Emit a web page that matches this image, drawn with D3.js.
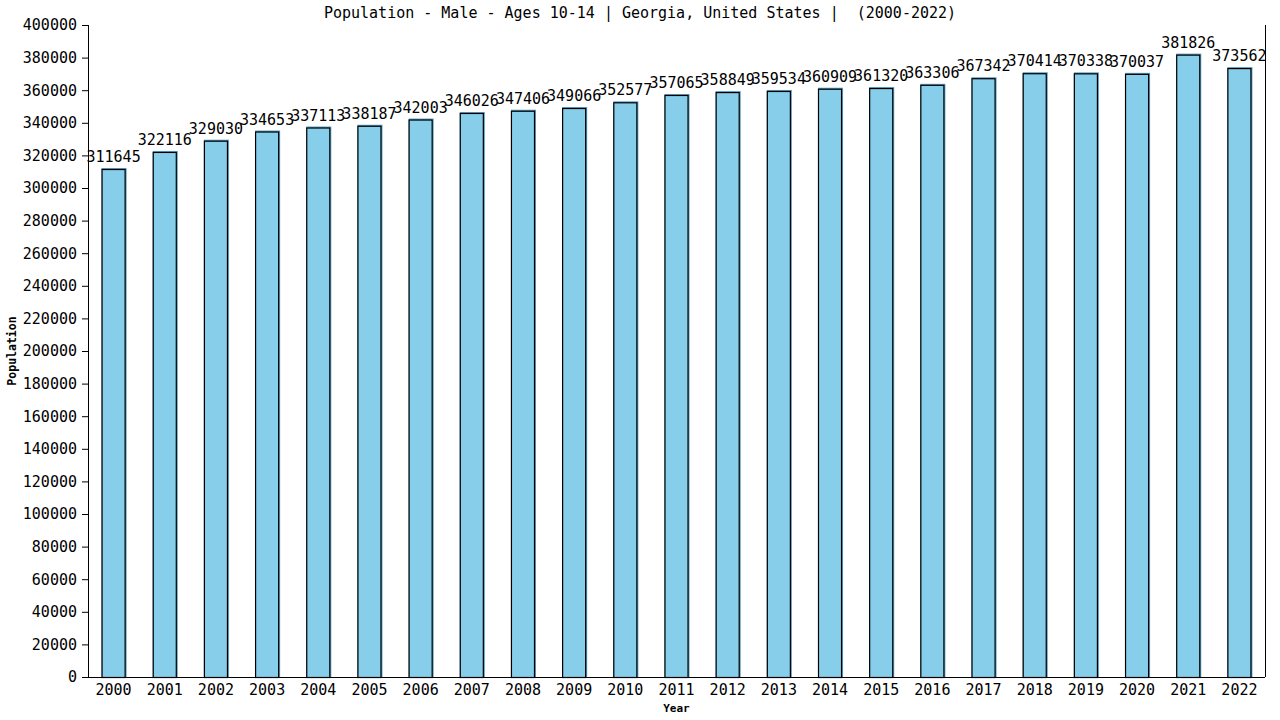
<!DOCTYPE html>
<html>
<head>
<meta charset="utf-8">
<script src="https://cdn.jsdelivr.net/npm/d3@7"></script>
<style>
  body { margin: 0; background: #fff; }
  text { font-family: "DejaVu Sans Mono", monospace; fill: #000; white-space: pre; }
</style>
</head>
<body>
<script>
// data
const years = ['2000', '2001', '2002', '2003', '2004', '2005', '2006', '2007', '2008', '2009', '2010', '2011',
  '2012', '2013', '2014', '2015', '2016', '2017', '2018', '2019', '2020', '2021', '2022']
const population = [311645, 322116, 329030, 334653, 337113, 338187, 342003, 346026, 347406, 349066, 352577, 357065,
  358849, 359534, 360909, 361320, 363306, 367342, 370414, 370338, 370037, 381826, 373562]
const yTicks = d3.range(0, 400001, 20000)
const title = 'Population - Male - Ages 10-14 | Georgia, United States |  (2000-2022)'

const w = 1280
const h = 720
const margin = { top: 25, right: 15, bottom: 43, left: 88 }

const svg = d3.select('body')
  .append('svg')
  .attr('width', w)
  .attr('height', h)

const xScale = d3.scaleBand()
  .domain(years)
  .range([margin.left, w - margin.right])
  .paddingInner(0.53)
  .paddingOuter(0.265)

const yScale = d3.scaleLinear()
  .domain([0, 400000])
  .range([h - margin.bottom, margin.top])

// bars: a thin blue edge behind, then the fill with black outline
svg.selectAll('rect.edge')
  .data(population)
  .enter()
  .append('rect')
  .attr('class', 'edge')
  .attr('x', (d, i) => xScale(years[i]))
  .attr('y', d => yScale(d) - 1)
  .attr('width', xScale.bandwidth() + 1)
  .attr('height', d => yScale(0) - yScale(d) + 1)
  .attr('fill', '#5a9ec4')

svg.selectAll('rect.bar')
  .data(population)
  .enter()
  .append('rect')
  .attr('class', 'bar')
  .attr('x', (d, i) => xScale(years[i]) + 0.5)
  .attr('y', d => yScale(d) + 0.5)
  .attr('width', xScale.bandwidth() - 1)
  .attr('height', d => yScale(0) - yScale(d))
  .attr('fill', '#87ceeb')
  .attr('stroke', '#000')
  .attr('stroke-width', 1.2)

// value labels
svg.selectAll('text.val')
  .data(population)
  .enter()
  .append('text')
  .attr('class', 'val')
  .attr('x', (d, i) => xScale(years[i]) + xScale.bandwidth() / 2)
  .attr('y', d => yScale(d) - 7)
  .attr('text-anchor', 'middle')
  .attr('font-size', '15px')
  .text(d => d)

// axes
const xAxis = d3.axisBottom(xScale).tickSize(0).tickPadding(7)
const yAxis = d3.axisLeft(yScale).tickValues(yTicks).tickSize(6).tickPadding(5).tickFormat(d3.format('d'))

const gx = svg.append('g')
  .attr('transform', `translate(0, ${h - margin.bottom})`)
  .call(xAxis)
gx.select('.domain').attr('stroke', '#000').attr('d', `M${margin.left},0.5H${w - margin.right}`)
gx.selectAll('text').attr('font-size', '15px').attr('font-family', '"DejaVu Sans Mono", monospace')

const gy = svg.append('g')
  .attr('transform', `translate(${margin.left}, 0)`)
  .call(yAxis)
gy.select('.domain').attr('stroke', '#000').attr('d', `M0.5,${margin.top}V${h - margin.bottom}`)
gy.selectAll('text').attr('font-size', '15px').attr('font-family', '"DejaVu Sans Mono", monospace')

// right border line
svg.append('line')
  .attr('x1', w - margin.right + 0.5)
  .attr('x2', w - margin.right + 0.5)
  .attr('y1', margin.top)
  .attr('y2', h - margin.bottom)
  .attr('stroke', '#000')

// title and axis labels
svg.append('text')
  .attr('x', w / 2)
  .attr('y', 18)
  .attr('text-anchor', 'middle')
  .attr('font-size', '15px')
  .text(title)

svg.append('text')
  .attr('x', (margin.left + w - margin.right) / 2)
  .attr('y', 712)
  .attr('text-anchor', 'middle')
  .attr('font-size', '11px')
  .attr('font-weight', 'bold')
  .text('Year')

svg.append('text')
  .attr('transform', `translate(16, ${(margin.top + h - margin.bottom) / 2}) rotate(-90)`)
  .attr('text-anchor', 'middle')
  .attr('font-size', '11.5px')
  .attr('font-weight', 'bold')
  .text('Population')
</script>
</body>
</html>
